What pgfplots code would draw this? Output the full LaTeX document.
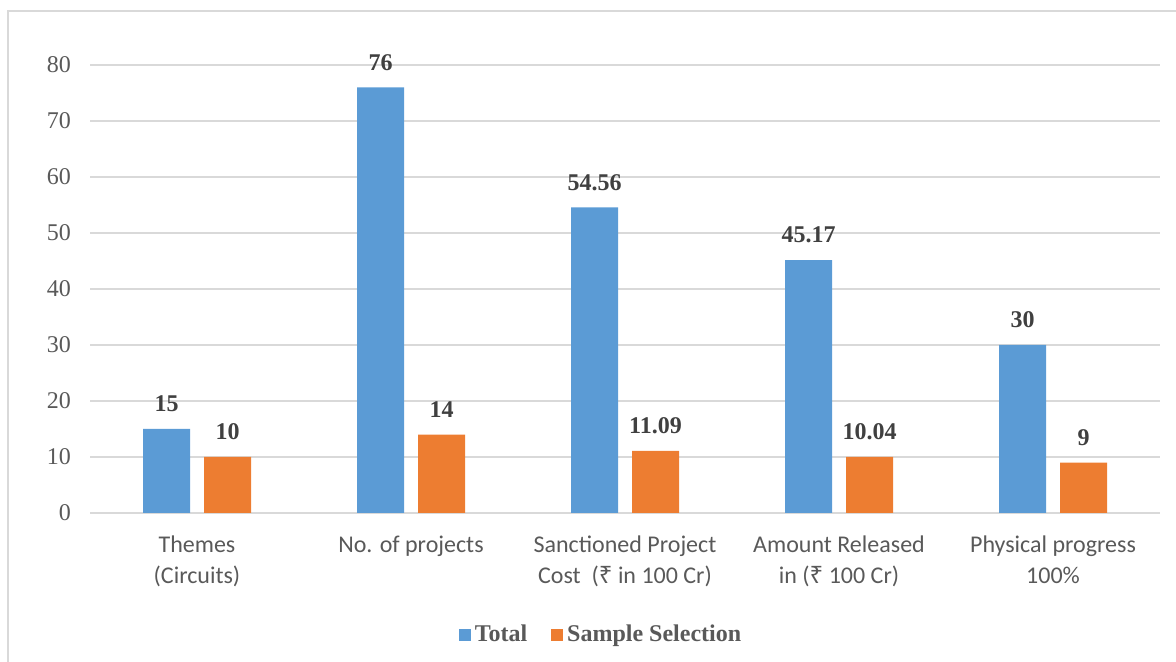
\documentclass[border=0pt]{standalone}
\usepackage{pgfplots}
\pgfplotsset{compat=1.18}
\usepackage{fontspec}
\setmainfont{Liberation Serif}
\newfontfamily\catfont{Carlito}
\newfontfamily\rupfont{Noto Sans}
\definecolor{barblue}{HTML}{5B9BD5}
\definecolor{barorange}{HTML}{ED7D31}
\definecolor{txtgray}{HTML}{595959}
\definecolor{lblgray}{HTML}{404040}
\definecolor{gridgray}{HTML}{D9D9D9}
\newcommand{\rupee}{{\rupfont ₹}}

\begin{document}
\begin{tikzpicture}
\begin{axis}[
    scale only axis,
    width=535pt, height=224pt,
    ybar=7pt, bar width=23.5pt,
    xmin=-0.5, xmax=4.5, ymin=0, ymax=80,
    ytick={0,10,...,80},
    xtick={0,...,4},
    xticklabels={{Themes\\(Circuits)}, {No. of projects}, {Sanctioned Project\\Cost\ \ (\rupee\ in 100 Cr)}, {Amount Released\\in (\rupee\ 100 Cr)}, {Physical progress\\100\%}},
    axis line style={draw=none},
    major tick length=0pt,
    ymajorgrids,
    grid style={gridgray, line width=1pt},
    /pgf/number format/assume math mode=true,
    yticklabel style={font=\fontsize{12}{14}\selectfont, text=txtgray, xshift=-6pt},
    xticklabel style={font=\catfont\fontsize{12}{15.5}\selectfont, text=txtgray, align=center, yshift=-8pt, anchor=north},
    point meta=explicit symbolic,
    nodes near coords,
    nodes near coords style={font=\bfseries\fontsize{12}{14}\selectfont, text=lblgray, yshift=5pt},
    legend style={at={(0.4785,-0.272)}, anchor=center, draw=none, legend columns=2,
        font=\bfseries\fontsize{12}{14}\selectfont, text=txtgray,
        /tikz/every even column/.append style={column sep=10pt}},
    legend image code/.code={\fill[#1] (0pt,-3pt) rectangle (6pt,3pt);},
    clip=false,
]
\addplot[fill=barblue, draw=none] coordinates {
    (0,15) [15]
    (1,76) [76]
    (2,54.56) [54.56]
    (3,45.17) [45.17]
    (4,30) [30]
};
\addlegendentry{Total}
\addplot[fill=barorange, draw=none] coordinates {
    (0,10) [10]
    (1,14) [14]
    (2,11.09) [11.09]
    (3,10.04) [10.04]
    (4,9) [9]
};
\addlegendentry{Sample Selection}
\coordinate (O) at (rel axis cs:0,0);
\end{axis}
\pgfresetboundingbox
\useasboundingbox ([shift={(-45pt,-74.5pt)}]O) rectangle ([shift={(543pt,256.5pt)}]O);
\draw[gridgray, line width=1pt] ([shift={(-41pt,-80pt)}]O) -- ([shift={(-41pt,251pt)}]O) -- ([shift={(560pt,251pt)}]O);
\end{tikzpicture}
\end{document}
